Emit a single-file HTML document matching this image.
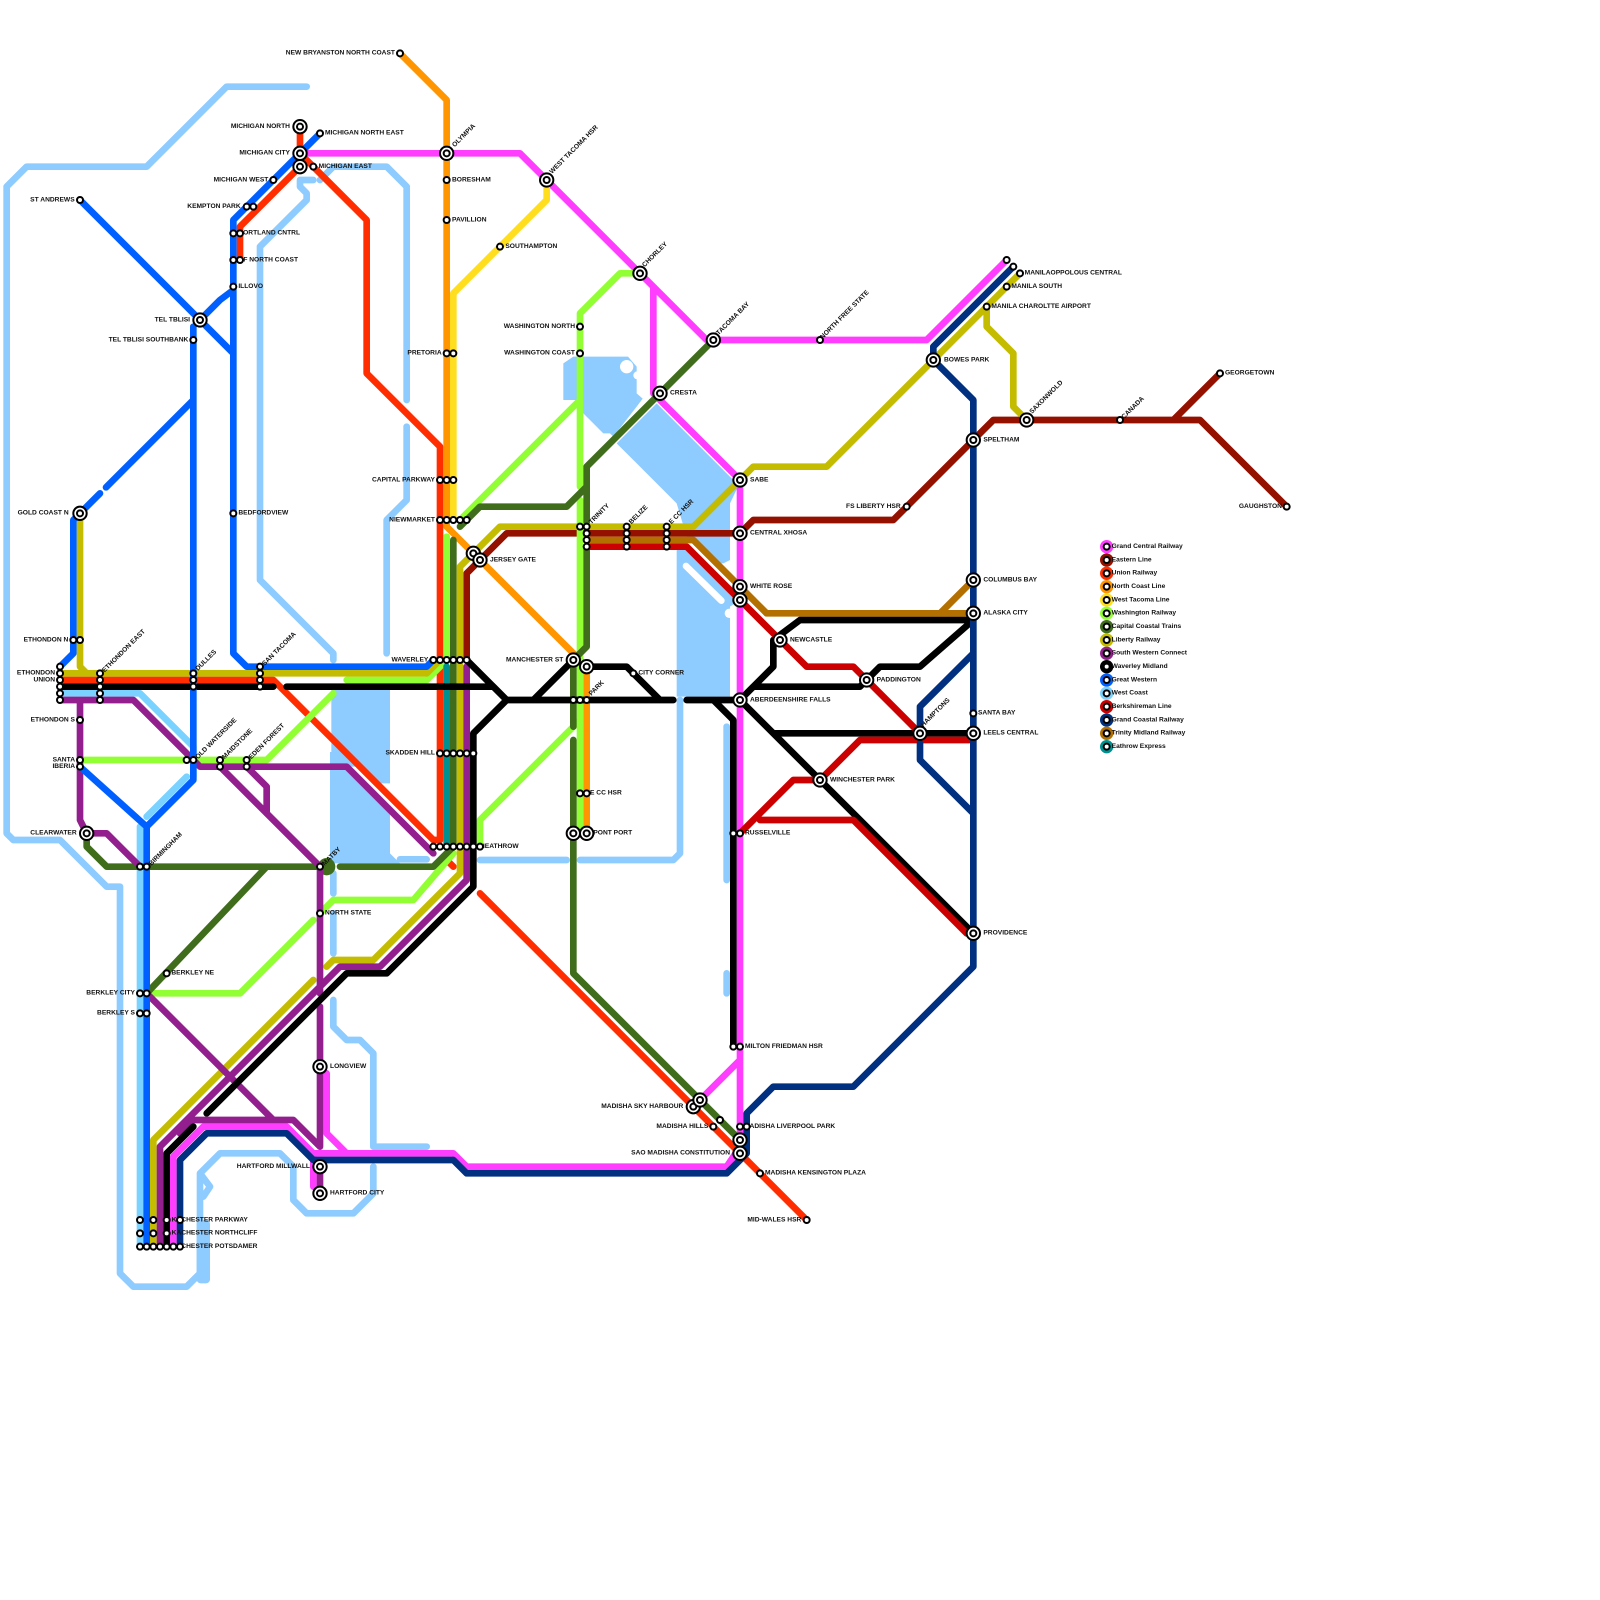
<!DOCTYPE html>
<html><head><meta charset="utf-8"><style>
html,body{margin:0;padding:0;background:#fff;width:1600px;height:1600px;overflow:hidden}
svg{display:block}
.l{fill:none;stroke-width:1;stroke-linecap:round;stroke-linejoin:round}
text{font-family:"Liberation Sans",sans-serif;font-weight:bold;font-size:1px;fill:#111}
.e{text-anchor:end}
.s{fill:#fff;stroke:#000;stroke-width:.3}
</style></head><body>
<svg width="1600" height="1600" viewBox="0 0 240 240" xmlns="http://www.w3.org/2000/svg">
<defs>
<circle id="a" class="s" r=".45"/>
<g id="b"><circle class="s" r="1" stroke-width=".3"/><circle class="s" r=".45"/></g>
</defs>
<!-- water -->
<g fill="#8ecbff" stroke="none">
<path d="M49.7 103.5H58.5V117.5H57L54.5 115H49.7Z"/>
<path d="M49.5 112.8H51V115.5H52L58.5 122V128L60 129.5H49.5Z"/>
<path d="M84.5 54.5L86 53.5H94.2L95.5 55V59L96.4 59.8L95.5 61L92 65.5L91.5 65H90.5L88.5 63L87.5 62H87V60H84.5Z"/>
<path d="M98.5 60.5L110.8 72.8L109.5 75.5V84L108.5 84.5H107L103 80.5L101.5 75.5L92.5 66.5Z"/>
<path d="M101.5 82H103L111 90L109.5 91V104.5H101.5Z"/>
<rect x="29.5" y="183" width="2" height="9.5" rx=".6"/>
</g>
<circle cx="94" cy="55" r="1" fill="#fff"/>
<circle cx="95.6" cy="56.3" r=".6" fill="#fff"/>
<path class="l" stroke="#fff" d="M102.9 84.9L108.2 90.1"/>
<circle cx="109.4" cy="92" r=".7" fill="#fff"/>
<path class="l" stroke="#8ecbff" d="M46 13H34L22 25H4L1 28V125L2 126H9L16 133H18V191L20 193H28L30 191V176L33 173H42L44 175V180L46 182H53L56 179V175
M56 172V158L54 156H52L50 154V150M56 172L57 172H64
M47 27H45V28L46 29V30L39 37V87L50 98V99
M48 27L50 25H58L61 28V60M61 64V75L58 78V98
M50 131V134M50 137V143
M60 128.9H64M72 129H85M87 129H101L102 128V105
M109 109V132M109 146V149
M30 176L31.5 178L30.5 179.5"/>
<!-- West coast -->
<path class="l" stroke="#79d2ff" d="M9 104H21L29 112V116.5M28 116.5L22 122.5M21 124V187"/>
<!-- Grand Central -->
<path class="l" stroke="#ff3dff" d="M45 23H78L96 41L106 51H139L151 39M98 43V59L111 72V170M105 165L111 159M111 172L109 175H70L68 173H47V178M26 187V173.5L30.5 169H43L47 173M49 161V170L52 173"/>
<!-- Eastern -->
<path class="l" stroke="#941100" d="M70 99V86L76 80H111L113 78H134L149 63H180L193 76M176 63L183 56"/>
<!-- Union -->
<path class="l" stroke="#ff2d00" d="M45 19V25L36 34V39M45 23L55 33V56L65 66L66 67V126M9 102H41L65 126H66M67 129L68 130M72 134L121 183"/>
<!-- North Coast -->
<path class="l" stroke="#ff9500" d="M60 8L67 15V79L88 100V125"/>
<!-- West Tacoma -->
<path class="l" stroke="#ffde1f" d="M82 27V30L68 44V78"/>
<!-- Washington -->
<path class="l" stroke="#91ff33" d="M12 114H40L50 104M52 102H64L67 99V80.5M69 78L87 60M96 41H93L87 47V73M87 75V125M87 108L72 123V127M68 128L62 135H50L48 137M47 138L36 149H22"/>
<!-- Capital Coastal -->
<path class="l" stroke="#3f6d1c" d="M107 51L88 70V79M88 82V97L86 99V109M86 111V146L111 171M69 79L72 76H85L88 73M68 81V127L65 130H51M48 130H16L13 127V125M40 130L22 149"/>
<circle cx="49" cy="130" r="1.3" fill="#3f6d1c"/>
<!-- Eathrow -->
<path class="l" stroke="#009090" d="M67 100V127"/>
<!-- Liberty -->
<path class="l" stroke="#c4bc00" d="M12 77V100L13 101M9 101H64L66 99M69 131V85L75 79H104L113 70H124L153 41M148 46V49L152 53V61L154 63M111 72L113 70M69 131L56 144H50L49 145M47 147L23 171V187"/>
<!-- South Western -->
<path class="l" stroke="#931f8f" d="M9 105H20L30 115H52L65 128M12 105V123L13 125H16L21 130M33 115L48 130V149M37 115L40 118V122M48 151V172M48 175V179M70 100V132L57 145H51L24 172V187M22 149L41 168M27 170L29 168H44L48 172"/>
<!-- Waverley -->
<path class="l" stroke="#000" d="M9 103H41M43 103H74L76 105M70 99L76 105H101M76 105L71 110V133L58 146H52L31 167M29 169L25 173V187M80 105L86 99M88 100H94L99 105M103 105H111M107 105L110 108V157M111 105L116 100V96L120 93H146L138 100H132L130 102L129 103H113L111 105M111 105L146 140M116 110H146"/>
<!-- Great Western -->
<path class="l" stroke="#0060ff" d="M48 20L35 33V98L37 100H64L65 99M12 30L30 48L35 53M30 48L33 45L35 43.5M29 49V117L22 124V187M12 115L22 124M11 78V98L9 100M11 78L15 74M15.9 73.1L29 60"/>
<!-- Berkshireman -->
<path class="l" stroke="#cc0000" d="M88 82H103L121 100H128L138 110M146 111H129L123 117H119L111 125M114 123H128L145 140"/>
<!-- Grand Coastal -->
<path class="l" stroke="#00307f" d="M27 187V174L31 170H43L47 174H68L70 176H109L112 173V167L116 163H128L146 145V60L140 54V52L152 40M138 110V106L146 98M138 111.5V114L146 122"/>
<!-- Trinity -->
<path class="l" stroke="#b36f00" d="M88 81H104L115 92H146M141 92L146 87"/>

<!-- labels -->
<g id="labels" transform="translate(0,.2)">
<text class="e" x="59.25" y="8">NEW BRYANSTON NORTH COAST</text>
<text class="e" x="43.5" y="19">MICHIGAN NORTH</text>
<text class="e" x="43.5" y="23">MICHIGAN CITY</text>
<text class="e" x="40.25" y="27">MICHIGAN WEST</text>
<text class="e" x="36.1" y="31">KEMPTON PARK</text>
<text x="48.75" y="20">MICHIGAN NORTH EAST</text>
<text x="47.8" y="25">MICHIGAN EAST</text>
<text x="35.8" y="35">PORTLAND CNTRL</text>
<text x="36.5" y="39">F NORTH COAST</text>
<text x="35.75" y="43">ILLOVO</text>
<text x="35.75" y="77">BEDFORDVIEW</text>
<text x="67.8" y="27">BORESHAM</text>
<text x="67.8" y="33">PAVILLION</text>
<text x="75.8" y="37">SOUTHAMPTON</text>
<text class="e" x="11.2" y="30">ST ANDREWS</text>
<text class="e" x="28.5" y="48">TEL TBLISI</text>
<text class="e" x="28.25" y="51">TEL TBLISI SOUTHBANK</text>
<text class="e" x="10.3" y="77">GOLD COAST N</text>
<text class="e" x="10.25" y="96">ETHONDON N</text>
<text class="e" x="8.25" y="101">ETHONDON</text>
<text class="e" x="8.25" y="102">UNION</text>
<text class="e" x="11.25" y="108">ETHONDON S</text>
<text class="e" x="11.25" y="114">SANTA</text>
<text class="e" x="11.25" y="115">IBERIA</text>
<text class="e" x="11.5" y="125">CLEARWATER</text>
<text class="e" x="66.25" y="53">PRETORIA</text>
<text class="e" x="65.25" y="72">CAPITAL PARKWAY</text>
<text class="e" x="65.25" y="78">NIEWMARKET</text>
<text class="e" x="64.25" y="99">WAVERLEY</text>
<text class="e" x="65.25" y="113">SKADDEN HILL</text>
<text x="72" y="127">HEATHROW</text>
<text x="73.5" y="84">JERSEY GATE</text>
<text class="e" x="86.25" y="49">WASHINGTON NORTH</text>
<text class="e" x="86.25" y="53">WASHINGTON COAST</text>
<text class="e" x="84.5" y="99">MANCHESTER ST</text>
<text x="95.75" y="101">CITY CORNER</text>
<text x="88.5" y="119">E CC HSR</text>
<text x="89" y="125">PONT PORT</text>
<text x="100.5" y="59">CRESTA</text>
<text x="112.5" y="72">SABE</text>
<text x="112.5" y="80">CENTRAL XHOSA</text>
<text x="112.5" y="88">WHITE ROSE</text>
<text x="118.5" y="96">NEWCASTLE</text>
<text x="131.5" y="102">PADDINGTON</text>
<text x="112.5" y="105">ABERDEENSHIRE FALLS</text>
<text x="124.5" y="117">WINCHESTER PARK</text>
<text x="111.75" y="125">RUSSELVILLE</text>
<text class="e" x="135.1" y="76">FS LIBERTY HSR</text>
<text x="141.6" y="54">BOWES PARK</text>
<text x="147.5" y="66">SPELTHAM</text>
<text x="147.5" y="87">COLUMBUS BAY</text>
<text x="147.5" y="92">ALASKA CITY</text>
<text x="146.7" y="107">SANTA BAY</text>
<text x="147.5" y="110">LEELS CENTRAL</text>
<text x="147.5" y="140">PROVIDENCE</text>
<text x="153.7" y="41">MANILAOPPOLOUS CENTRAL</text>
<text x="151.7" y="43">MANILA SOUTH</text>
<text x="148.7" y="46">MANILA CHAROLTTE AIRPORT</text>
<text x="183.75" y="56">GEORGETOWN</text>
<text class="e" x="192.3" y="76">GAUGHSTON</text>
<text x="111.75" y="157">MILTON FRIEDMAN HSR</text>
<text x="111.6" y="169">MADISHA LIVERPOOL PARK</text>
<text x="114.75" y="176">MADISHA KENSINGTON PLAZA</text>
<text class="e" x="120.2" y="183">MID-WALES HSR</text>
<text class="e" x="106.25" y="169">MADISHA HILLS</text>
<text class="e" x="102.5" y="166">MADISHA SKY HARBOUR</text>
<text class="e" x="109.5" y="173">SAO MADISHA CONSTITUTION</text>
<text x="49.5" y="160">LONGVIEW</text>
<text class="e" x="46.5" y="175">HARTFORD MILLWALL</text>
<text x="49.5" y="179">HARTFORD CITY</text>
<text x="48.75" y="137">NORTH STATE</text>
<text x="25.7" y="146">BERKLEY NE</text>
<text class="e" x="20.25" y="149">BERKLEY CITY</text>
<text class="e" x="20.25" y="152">BERKLEY S</text>
<text x="25.75" y="183">KACHESTER PARKWAY</text>
<text x="25.75" y="185">KACHESTER NORTHCLIFF</text>
<text x="25.75" y="187">KACHESTER POTSDAMER</text>
<g transform="translate(-.3,.4)">
<text transform="translate(68.5,21.5) rotate(-45)">OLYMPIA</text>
<text transform="translate(83.1,25.5) rotate(-45)">WEST TACOMA HSR</text>
<text transform="translate(97,39.5) rotate(-45)">CHORLEY</text>
<text transform="translate(108.1,49.7) rotate(-45)">TACOMA BAY</text>
<text transform="translate(123.7,50.3) rotate(-45)">NORTH FREE STATE</text>
<text transform="translate(138.8,108.5) rotate(-45)">HAMPTONS</text>
<text transform="translate(155.1,61.5) rotate(-45)">SAXONWOLD</text>
<text transform="translate(168.9,62.3) rotate(-45)">CANADA</text>
<text transform="translate(89,78.05) rotate(-45)">TRINITY</text>
<text transform="translate(95,78.05) rotate(-45)">BELIZE</text>
<text transform="translate(101,78.05) rotate(-45)">E CC HSR</text>
<text transform="translate(16,100.3) rotate(-45)">ETHONDON EAST</text>
<text transform="translate(30,100.05) rotate(-45)">DULLES</text>
<text transform="translate(40,99.3) rotate(-45)">SAN TACOMA</text>
<text transform="translate(30,113.3) rotate(-45)">OLD WATERSIDE</text>
<text transform="translate(34,113.3) rotate(-45)">MAIDSTONE</text>
<text transform="translate(38,113.3) rotate(-45)">EDEN FOREST</text>
<text transform="translate(23,129.3) rotate(-45)">BIRMINGHAM</text>
<text transform="translate(49,129.3) rotate(-45)">MATBY</text>
<text transform="translate(89,103.8) rotate(-45)">PARK</text>
</g>
</g>

<!-- small stations -->
<g class="small">
<use href="#a" x="48" y="20"/><use href="#a" x="47" y="25"/><use href="#a" x="41" y="27"/><use href="#a" x="37" y="31"/><use href="#a" x="38" y="31"/>
<use href="#a" x="35" y="35"/><use href="#a" x="36" y="35"/><use href="#a" x="35" y="39"/><use href="#a" x="36" y="39"/><use href="#a" x="35" y="43"/><use href="#a" x="35" y="77"/>
<use href="#a" x="60" y="8"/><use href="#a" x="67" y="27"/><use href="#a" x="67" y="33"/><use href="#a" x="75" y="37"/><use href="#a" x="12" y="30"/><use href="#a" x="29" y="51"/>
<use href="#a" x="11" y="96"/><use href="#a" x="12" y="96"/>
<use href="#a" x="9" y="100"/><use href="#a" x="9" y="101"/><use href="#a" x="9" y="102"/><use href="#a" x="9" y="103"/><use href="#a" x="9" y="104"/><use href="#a" x="9" y="105"/>
<use href="#a" x="15" y="101"/><use href="#a" x="15" y="102"/><use href="#a" x="15" y="103"/><use href="#a" x="15" y="104"/><use href="#a" x="15" y="105"/>
<use href="#a" x="29" y="101"/><use href="#a" x="29" y="102"/><use href="#a" x="29" y="103"/>
<use href="#a" x="39" y="100"/><use href="#a" x="39" y="101"/><use href="#a" x="39" y="102"/><use href="#a" x="39" y="103"/>
<use href="#a" x="12" y="108"/><use href="#a" x="12" y="114"/><use href="#a" x="12" y="115"/>
<use href="#a" x="28" y="114"/><use href="#a" x="29" y="114"/><use href="#a" x="33" y="114"/><use href="#a" x="33" y="115"/><use href="#a" x="37" y="114"/><use href="#a" x="37" y="115"/>
<use href="#a" x="21" y="130"/><use href="#a" x="22" y="130"/><use href="#a" x="48" y="130"/><use href="#a" x="48" y="137"/>
<use href="#a" x="25" y="146"/><use href="#a" x="21" y="149"/><use href="#a" x="22" y="149"/><use href="#a" x="21" y="152"/><use href="#a" x="22" y="152"/>
<use href="#a" x="21" y="183"/><use href="#a" x="23" y="183"/><use href="#a" x="25" y="183"/><use href="#a" x="27" y="183"/>
<use href="#a" x="21" y="185"/><use href="#a" x="23" y="185"/><use href="#a" x="25" y="185"/>
<use href="#a" x="21" y="187"/><use href="#a" x="22" y="187"/><use href="#a" x="23" y="187"/><use href="#a" x="24" y="187"/><use href="#a" x="25" y="187"/><use href="#a" x="26" y="187"/><use href="#a" x="27" y="187"/>
<use href="#a" x="67" y="53"/><use href="#a" x="68" y="53"/>
<use href="#a" x="66" y="72"/><use href="#a" x="67" y="72"/><use href="#a" x="68" y="72"/>
<use href="#a" x="66" y="78"/><use href="#a" x="67" y="78"/><use href="#a" x="68" y="78"/><use href="#a" x="69" y="78"/><use href="#a" x="70" y="78"/>
<use href="#a" x="65" y="99"/><use href="#a" x="66" y="99"/><use href="#a" x="67" y="99"/><use href="#a" x="68" y="99"/><use href="#a" x="69" y="99"/><use href="#a" x="70" y="99"/>
<use href="#a" x="66" y="113"/><use href="#a" x="67" y="113"/><use href="#a" x="68" y="113"/><use href="#a" x="69" y="113"/><use href="#a" x="70" y="113"/><use href="#a" x="71" y="113"/>
<use href="#a" x="65" y="127"/><use href="#a" x="66" y="127"/><use href="#a" x="67" y="127"/><use href="#a" x="68" y="127"/><use href="#a" x="69" y="127"/><use href="#a" x="70" y="127"/><use href="#a" x="71" y="127"/><use href="#a" x="72" y="127"/>
<use href="#a" x="87" y="49"/><use href="#a" x="87" y="53"/>
<use href="#a" x="87" y="79"/><use href="#a" x="88" y="79"/><use href="#a" x="88" y="80"/><use href="#a" x="88" y="81"/><use href="#a" x="88" y="82"/>
<use href="#a" x="94" y="79"/><use href="#a" x="94" y="80"/><use href="#a" x="94" y="81"/><use href="#a" x="94" y="82"/>
<use href="#a" x="100" y="79"/><use href="#a" x="100" y="80"/><use href="#a" x="100" y="81"/><use href="#a" x="100" y="82"/>
<use href="#a" x="95" y="101"/><use href="#a" x="86" y="105"/><use href="#a" x="87" y="105"/><use href="#a" x="88" y="105"/><use href="#a" x="87" y="119"/><use href="#a" x="88" y="119"/>
<use href="#a" x="110" y="125"/><use href="#a" x="111" y="125"/><use href="#a" x="110" y="157"/><use href="#a" x="111" y="157"/>
<use href="#a" x="111" y="169"/><use href="#a" x="112" y="169"/><use href="#a" x="107" y="169"/><use href="#a" x="108" y="168"/><use href="#a" x="114" y="176"/><use href="#a" x="121" y="183"/>
<use href="#a" x="123" y="51"/><use href="#a" x="136" y="76"/><use href="#a" x="146" y="107"/>
<use href="#a" x="151" y="39"/><use href="#a" x="152" y="40"/><use href="#a" x="153" y="41"/><use href="#a" x="151" y="43"/><use href="#a" x="148" y="46"/>
<use href="#a" x="168" y="63"/><use href="#a" x="183" y="56"/><use href="#a" x="193" y="76"/>
</g>
<!-- interchanges -->
<g>
<use href="#b" x="45" y="19"/><use href="#b" x="45" y="23"/><use href="#b" x="45" y="25"/><use href="#b" x="67" y="23"/><use href="#b" x="82" y="27"/><use href="#b" x="96" y="41"/><use href="#b" x="107" y="51"/><use href="#b" x="99" y="59"/>
<use href="#b" x="30" y="48"/><use href="#b" x="12" y="77"/><use href="#b" x="13" y="125"/>
<use href="#b" x="71" y="83"/><use href="#b" x="72" y="84"/><use href="#b" x="86" y="99"/><use href="#b" x="88" y="100"/><use href="#b" x="86" y="125"/><use href="#b" x="88" y="125"/>
<use href="#b" x="111" y="72"/><use href="#b" x="111" y="80"/><use href="#b" x="111" y="88"/><use href="#b" x="111" y="90"/><use href="#b" x="117" y="96"/><use href="#b" x="111" y="105"/><use href="#b" x="130" y="102"/><use href="#b" x="138" y="110"/><use href="#b" x="123" y="117"/>
<use href="#b" x="140" y="54"/><use href="#b" x="146" y="66"/><use href="#b" x="146" y="87"/><use href="#b" x="146" y="92"/><use href="#b" x="146" y="110"/><use href="#b" x="146" y="140"/><use href="#b" x="154" y="63"/>
<use href="#b" x="48" y="160"/><use href="#b" x="48" y="175"/><use href="#b" x="48" y="179"/>
<use href="#b" x="104" y="166"/><use href="#b" x="105" y="165"/><use href="#b" x="111" y="171"/><use href="#b" x="111" y="173"/>
</g>
<!-- legend -->
<g>
<circle cx="166" cy="82" r="1" fill="#ff3dff"/><circle cx="166" cy="84" r="1" fill="#941100"/><circle cx="166" cy="86" r="1" fill="#ff2d00"/><circle cx="166" cy="88" r="1" fill="#ff9500"/><circle cx="166" cy="90" r="1" fill="#ffde1f"/><circle cx="166" cy="92" r="1" fill="#91ff33"/><circle cx="166" cy="94" r="1" fill="#3f6d1c"/><circle cx="166" cy="96" r="1" fill="#c4bc00"/><circle cx="166" cy="98" r="1" fill="#931f8f"/><circle cx="166" cy="100" r="1" fill="#000"/><circle cx="166" cy="102" r="1" fill="#0060ff"/><circle cx="166" cy="104" r="1" fill="#79d2ff"/><circle cx="166" cy="106" r="1" fill="#cc0000"/><circle cx="166" cy="108" r="1" fill="#00307f"/><circle cx="166" cy="110" r="1" fill="#b36f00"/><circle cx="166" cy="112" r="1" fill="#009090"/>
<use href="#a" x="166" y="82"/><use href="#a" x="166" y="84"/><use href="#a" x="166" y="86"/><use href="#a" x="166" y="88"/><use href="#a" x="166" y="90"/><use href="#a" x="166" y="92"/><use href="#a" x="166" y="94"/><use href="#a" x="166" y="96"/><use href="#a" x="166" y="98"/><use href="#a" x="166" y="100"/><use href="#a" x="166" y="102"/><use href="#a" x="166" y="104"/><use href="#a" x="166" y="106"/><use href="#a" x="166" y="108"/><use href="#a" x="166" y="110"/><use href="#a" x="166" y="112"/>
</g>
<g transform="translate(166.75,.2)">
<text y="82">Grand Central Railway</text><text y="84">Eastern Line</text><text y="86">Union Railway</text><text y="88">North Coast Line</text><text y="90">West Tacoma Line</text><text y="92">Washington Railway</text><text y="94">Capital Coastal Trains</text><text y="96">Liberty Railway</text><text y="98">South Western Connect</text><text y="100">Waverley Midland</text><text y="102">Great Western</text><text y="104">West Coast</text><text y="106">Berkshireman Line</text><text y="108">Grand Coastal Railway</text><text y="110">Trinity Midland Railway</text><text y="112">Eathrow Express</text>
</g>
</svg>
</body></html>
